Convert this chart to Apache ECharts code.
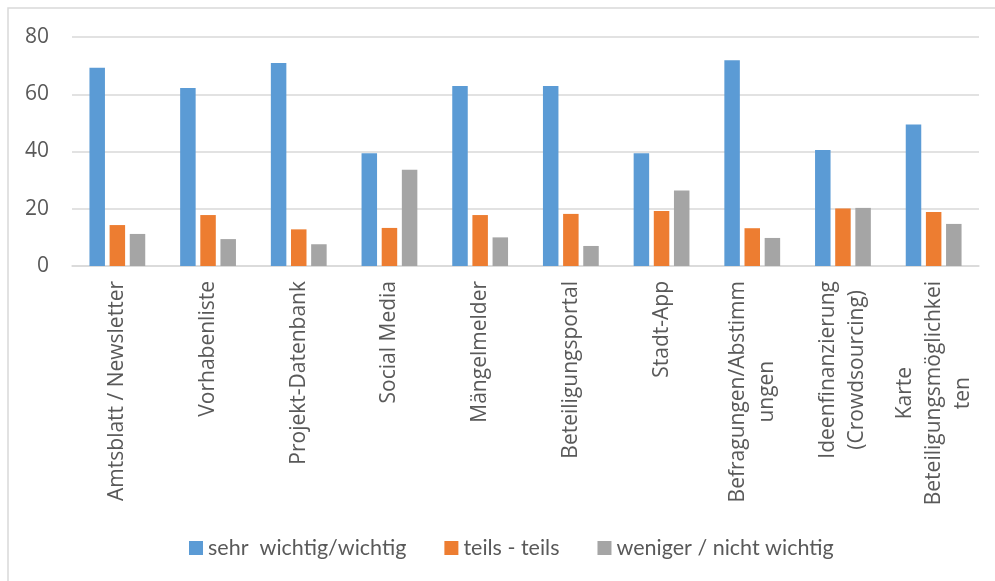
<!DOCTYPE html>
<html>
<head>
<meta charset="utf-8">
<script src="https://cdn.jsdelivr.net/npm/echarts@6/dist/echarts.min.js"></script>
<style>
  html, body { margin: 0; padding: 0; background: #fff; }
  #chart { width: 995px; height: 581px; }
</style>
</head>
<body>
<div id="chart"></div>
<script>
var categories = ['Amtsblatt / Newsletter', 'Vorhabenliste', 'Projekt-Datenbank', 'Social Media',
	'Mängelmelder', 'Beteiligungsportal', 'Stadt-App', 'Befragungen/Abstimm\nungen',
	'Ideenfinanzierung\n(Crowdsourcing)', 'Karte\nBeteiligungsmöglichkei\nten'];
var wichtig = [69.3, 62.2, 70.9, 39.4, 62.9, 62.9, 39.4, 71.9, 40.5, 49.4];
var teils = [14.3, 17.8, 12.8, 13.3, 17.8, 18.2, 19.2, 13.2, 20.1, 18.9];
var weniger = [11.2, 9.4, 7.6, 33.6, 10.0, 7.0, 26.4, 9.8, 20.3, 14.7];
var seriesNames = ['sehr  wichtig/wichtig', 'teils - teils', 'weniger / nicht wichtig'];
var yTicks = [0, 20, 40, 60, 80];

var chart = echarts.init(document.getElementById('chart'));
var txt = '#595959';
var labelFont = '"Open Sans", sans-serif';

chart.setOption({
	animation: false,
	color: ['#5B9BD5', '#ED7D31', '#A5A5A5'],
	graphic: [{
		type: 'rect',
		shape: { x: 8, y: 8, width: 1100, height: 700 },
		style: { fill: 'none', stroke: '#D9D9D9', lineWidth: 1.5 },
		silent: true
	}],
	grid: { left: 72, right: 16, top: 37, bottom: 315 },
	legend: {
		left: 184,
		top: 532,
		itemWidth: 14,
		itemHeight: 14,
		itemGap: 38,
		icon: 'rect',
		textStyle: { color: txt, fontSize: 21.5, fontFamily: 'Lato, sans-serif' },
		data: seriesNames
	},
	xAxis: {
		type: 'category',
		data: categories,
		axisLine: { lineStyle: { color: '#D9D9D9', width: 1.5 } },
		axisTick: { show: false },
		axisLabel: {
			interval: 0,
			rotate: 90,
			margin: 15,
			color: txt,
			fontSize: 21,
			lineHeight: 29,
			fontFamily: labelFont,
			formatter: function (v) {
				return v.split('\n').map(function (s) { return '{c|' + s + '}'; }).join('\n');
			},
			rich: {
				c: { align: 'center', color: txt, fontSize: 21, fontFamily: labelFont, lineHeight: 29 }
			}
		}
	},
	yAxis: {
		type: 'value',
		min: yTicks[0],
		max: yTicks[yTicks.length - 1],
		interval: 20,
		axisLine: { show: false },
		axisTick: { show: false },
		splitLine: { lineStyle: { color: '#D9D9D9', width: 1.5 } },
		axisLabel: { color: txt, fontSize: 21, fontFamily: labelFont, margin: 23 }
	},
	series: [
		{ name: seriesNames[0], type: 'bar', data: wichtig, barWidth: 15.5, barGap: '30%' },
		{ name: seriesNames[1], type: 'bar', data: teils, barWidth: 15.5, barGap: '30%' },
		{ name: seriesNames[2], type: 'bar', data: weniger, barWidth: 15.5, barGap: '30%' }
	]
});
</script>
</body>
</html>
